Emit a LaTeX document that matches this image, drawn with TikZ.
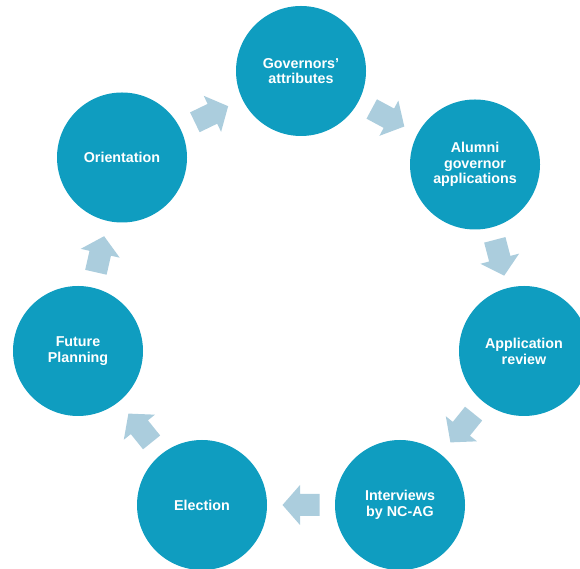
\documentclass[tikz,border=0pt]{standalone}
\usepackage{fontspec}
\setmainfont{Liberation Sans}
\usetikzlibrary{calc}
\definecolor{circc}{HTML}{0F9DC0}
\definecolor{arrc}{HTML}{ABCDDD}
\newcommand\cyclink[2]{\path let \p1=($(#2)-(#1)$), \n1={atan2(\y1,\x1)} in pic[rotate=\n1] at ($(#1)!0.5!(#2)$) {cycarrow};}
\begin{document}
\begin{tikzpicture}[x=1pt,y=1pt,
  stage/.style={circle, fill=circc, draw=none, minimum size=130pt, inner sep=0pt, text=white, font=\bfseries\fontsize{14.3}{15.8}\selectfont, align=center},
  cycarrow/.pic={\fill[arrc] (18.5pt,0pt) -- (1pt,20pt) -- (1pt,11pt) -- (-18.5pt,11pt) -- (-18.5pt,-11pt) -- (1pt,-11pt) -- (1pt,-20pt) -- cycle;}]
\useasboundingbox (0,0) rectangle (580,569);
\clip (0,0) rectangle (580,569);
\node[stage] (gov) at (301,498) {Governors’\\attributes};
\node[stage] (alu) at (475,404.5) {Alumni\\governor\\applications};
\node[stage] (rev) at (524,218) {Application\\review};
\node[stage] (int) at (400,64) {Interviews\\by NC-AG};
\node[stage] (ele) at (202,64) {Election};
\node[stage] (fut) at (78,218) {Future\\Planning};
\node[stage] (ori) at (122,411.5) {Orientation};
\cyclink{ori}{gov}
\cyclink{gov}{alu}
\cyclink{alu}{rev}
\cyclink{rev}{int}
\cyclink{int}{ele}
\cyclink{ele}{fut}
\cyclink{fut}{ori}
\end{tikzpicture}
\end{document}
